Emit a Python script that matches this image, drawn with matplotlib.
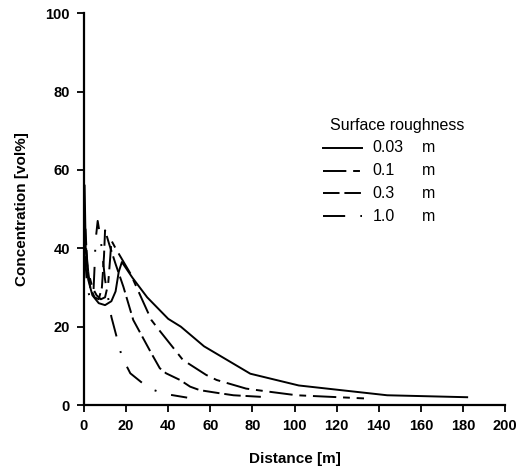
import matplotlib
matplotlib.use("Agg")
import matplotlib.pyplot as plt

plt.rcParams['font.family'] = ['Liberation Sans', 'DejaVu Sans']

# ==========================
# data
# ==========================
x_003 = [0.3, 0.8, 2, 4, 7, 10, 13, 15, 16.5, 18, 23, 30, 40, 46, 57, 79, 102, 144, 182]
y_003 = [56, 40, 32, 28, 26, 25.5, 26.5, 29, 34, 36.5, 32.5, 27.5, 22, 20, 15, 8, 5, 2.5, 2]

x_01 = [1, 2, 4, 6, 8, 10, 11.5, 12.5, 13, 15, 22, 32, 35, 47, 58, 63, 77, 88, 101, 133]
y_01 = [40, 34, 30, 28, 27, 27.5, 31, 38, 42, 40, 33.6, 21.7, 19.6, 11.5, 7.7, 6.4, 4.2, 3.4, 2.5, 1.7]

x_03 = [0.7, 1.5, 3, 5, 7, 8.5, 9.5, 10, 12, 15, 18.7, 23.4, 32, 36, 39, 45.6, 50.4, 55, 64.6, 71, 84]
y_03 = [45, 36, 30, 27.5, 27, 30, 38, 44.6, 41, 36, 30.2, 21.7, 13.2, 9.4, 8.1, 6.4, 4.7, 3.8, 3.0, 2.5, 2.1]

x_10 = [0.5, 1.5, 3, 4.5, 5, 5.5, 6.5, 8, 10, 13, 18, 22, 31, 39, 49]
y_10 = [38, 30, 27, 29, 35, 42, 47, 42, 32, 22.5, 12.3, 8.1, 4.2, 2.8, 1.9]

labels = ["0.03", "0.1", "0.3", "1.0"]
# dash lengths are in units of line width
styles = ['-', (0, (12, 3.5, 3.5, 3.5)), (0, (8.5, 2.5)), (0, (11.4, 7.8, 1, 7.8))]

# ==========================
# plot
# ==========================
fig = plt.figure(figsize=(5.25, 4.71), dpi=100)
ax = fig.add_axes([0.16, 0.14, 0.802, 0.832])

series = [(x_003, y_003), (x_01, y_01), (x_03, y_03), (x_10, y_10)]
for (xs, ys), ls in zip(series, styles):
    ax.plot(xs, ys, color='black', linestyle=ls, linewidth=1.4)

ax.set_xlim(0, 200)
ax.set_ylim(0, 100)
ax.set_xticks(range(0, 201, 20))
ax.set_yticks(range(0, 101, 20))
ax.tick_params(direction='out', length=5, width=1.3, labelsize=10.5, pad=5)
for lab in ax.get_xticklabels() + ax.get_yticklabels():
    lab.set_fontweight('bold')

for s in ['top', 'right']:
    ax.spines[s].set_visible(False)
for s in ['left', 'bottom']:
    ax.spines[s].set_linewidth(1.6)

ax.set_xlabel("Distance [m]", fontsize=11, fontweight='bold', labelpad=14)
ax.set_ylabel("Concentration [vol%]", fontsize=11, fontweight='bold', labelpad=12)

# legend drawn by hand
ax.text(0.584, 0.714, "Surface roughness", transform=ax.transAxes,
        fontsize=11.5, ha='left', va='center')
for i, (lab, ls) in enumerate(zip(labels, styles)):
    yy = 0.656 - i * 0.058
    ax.plot([0.568, 0.66], [yy, yy], transform=ax.transAxes,
            color='black', linestyle=ls, linewidth=1.4)
    ax.text(0.686, yy, lab, transform=ax.transAxes, fontsize=11.5,
            ha='left', va='center')
    ax.text(0.803, yy, "m", transform=ax.transAxes, fontsize=11.5,
            ha='left', va='center')

fig.savefig("out.png", dpi=100)
